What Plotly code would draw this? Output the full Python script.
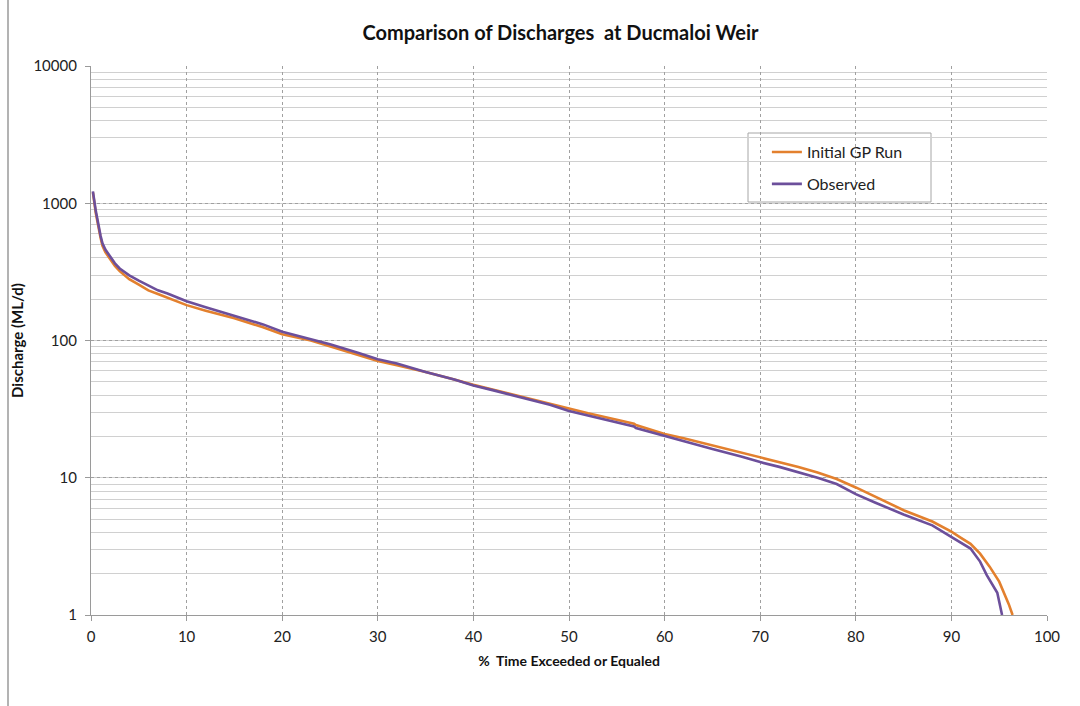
import plotly.graph_objects as go

# % time exceeded or equaled
gp_x = [0.2, 0.5, 1.0, 1.2, 1.5, 2, 2.5, 3, 4, 5, 6, 7, 8, 10, 12, 15, 18, 20, 23, 25, 28, 30, 32,
        35, 38, 40, 42, 45, 48, 50, 52, 55, 56.8, 57, 60, 62, 65, 68, 70, 72, 74, 76, 78, 80, 82, 85,
        88, 90, 91, 92, 93, 94, 95, 95.5, 96, 96.4]
gp_y = [1200, 850, 560, 490, 440, 390, 350, 320, 280, 255, 232, 218, 205, 181, 165, 145, 125, 111,
        100, 91, 79, 71, 66, 59, 52, 47.5, 44, 39, 35, 32.2, 29.5, 26.5, 24.8, 24.2, 20.8, 19.4,
        17.2, 15.2, 14.0, 13.0, 12.0, 10.9, 9.8, 8.5, 7.3, 5.8, 4.8, 4.05, 3.65, 3.3, 2.8, 2.25,
        1.75, 1.45, 1.2, 1.0]

obs_x = [0.2, 0.5, 1.0, 1.2, 1.5, 2, 2.5, 3, 4, 5, 6, 7, 8, 10, 12, 15, 18, 20, 23, 25, 28, 30, 32,
         35, 38, 40, 42, 45, 48, 50, 52, 55, 56.8, 57, 60, 62, 65, 68, 70, 72, 74, 76, 78, 80, 82, 85,
         88, 90, 91, 92, 93, 93.7, 94.8, 95.3]
obs_y = [1220, 880, 580, 510, 460, 405, 365, 335, 298, 273, 250, 232, 220, 193, 175, 152, 131, 116,
         102, 94, 81, 73, 68, 59, 52, 47, 43.5, 38.5, 34, 30.7, 28.5, 25.3, 23.6, 23.0, 20.1,
         18.5, 16.2, 14.3, 13.0, 12.0, 11.0, 10.0, 9.0, 7.6, 6.6, 5.4, 4.5, 3.7, 3.35, 3.05, 2.45,
         1.95, 1.45, 1.0]

series_names = ["Initial GP Run", "Observed"]
series_colors = ["#E3802E", "#6C4F9B"]

x_ticks = [0, 10, 20, 30, 40, 50, 60, 70, 80, 90, 100]
y_ticks = [1, 10, 100, 1000, 10000]

FONT = "Lato, 'Open Sans', sans-serif"
DASH = "3px,3px"

fig = go.Figure()
fig.add_trace(go.Scatter(x=gp_x, y=gp_y, mode="lines", name=series_names[0],
                         line=dict(color=series_colors[0], width=2.6), legendgroup="a"))
fig.add_trace(go.Scatter(x=obs_x, y=obs_y, mode="lines", name=series_names[1],
                         line=dict(color=series_colors[1], width=2.6), legendgroup="b"))

fig.update_layout(
    width=1080, height=706,
    margin=dict(l=91, r=33, t=66, b=91),
    paper_bgcolor="white", plot_bgcolor="white",
    font=dict(family=FONT, color="#222222", size=15),
    title=dict(text="<b>Comparison of Discharges  at Ducmaloi Weir</b>",
               x=(358 + 763) / 2 / 1080, xanchor="center", xref="container",
               y=1 - 33 / 706, yanchor="middle",
               font=dict(size=20, color="#111111")),
    showlegend=True,
    legend=dict(x=0.707, y=0.874, xanchor="left", yanchor="top",
                bgcolor="rgba(0,0,0,0)", borderwidth=0, tracegroupgap=8,
                font=dict(size=16, color="#222222")),
    shapes=[
        dict(type="rect", xref="paper", yref="paper",
             x0=(748 - 91) / 956, x1=(931 - 91) / 956,
             y0=(615 - 202) / 549, y1=(615 - 133) / 549,
             line=dict(color="#a6a6a6", width=1), fillcolor="white", layer="below"),
        dict(type="line", xref="paper", yref="paper",
             x0=(8 - 91) / 956, x1=(8 - 91) / 956, y0=-91 / 549, y1=(615 + 10) / 549 + 0.2,
             line=dict(color="#9a9a9a", width=1.5)),
    ],
)

fig.update_xaxes(
    range=[0, 100], tickvals=x_ticks, ticktext=[str(v) for v in x_ticks],
    showgrid=True, gridcolor="#a0a0a0", griddash=DASH, gridwidth=1,
    showline=True, linecolor="#9a9a9a", linewidth=1.2,
    ticks="outside", ticklen=5, tickcolor="#9a9a9a", ticklabelstandoff=3,
    tickfont=dict(size=15, color="#222222"), zeroline=False,
    title=dict(text="<b>%  Time Exceeded or Equaled</b>", font=dict(size=14, color="#111111"),
               standoff=12),
)
fig.update_yaxes(
    type="log", range=[0, 4], tickvals=y_ticks, ticktext=[str(v) for v in y_ticks],
    showgrid=True, gridcolor="#a0a0a0", griddash=DASH, gridwidth=1,
    minor=dict(showgrid=True, gridcolor="#d0d0d0", gridwidth=1, griddash="solid",
               dtick="D1", ticks=""),
    showline=True, linecolor="#9a9a9a", linewidth=1.2,
    ticks="outside", ticklen=5, tickcolor="#9a9a9a", ticklabelstandoff=5,
    tickfont=dict(size=15, color="#222222"), zeroline=False,
    title=dict(text="<b>Discharge (ML/d)</b>", font=dict(size=15, color="#111111"), standoff=6),
)

fig.write_html("out.html")
